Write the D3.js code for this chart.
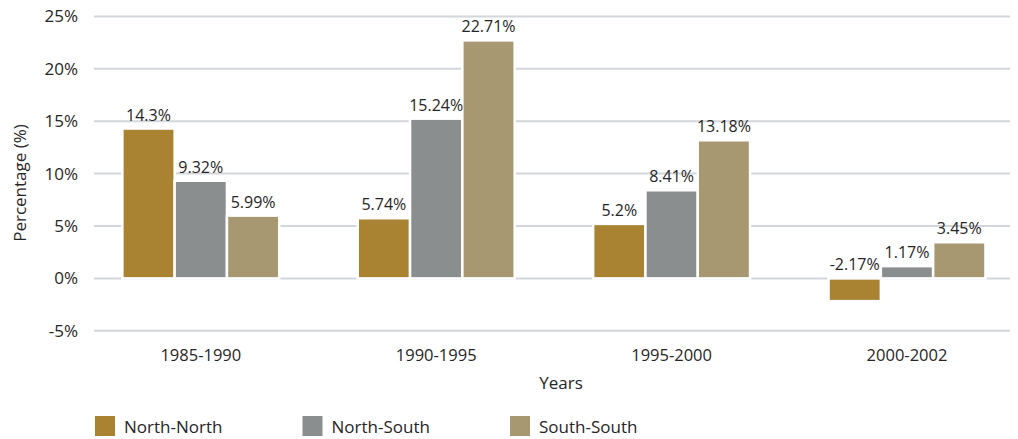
<!DOCTYPE html>
<html>
<head>
<meta charset="utf-8">
<script src="https://cdn.jsdelivr.net/npm/d3@7"></script>
<style>
  html, body { margin: 0; padding: 0; background: #fff; }
  svg { display: block; font-family: "Open Sans", "Noto Sans", sans-serif; }
</style>
</head>
<body>
<svg id="chart" width="1018" height="439"></svg>
<script>
// Trade growth by period and direction
const periods = ["1985-1990", "1990-1995", "1995-2000", "2000-2002"];
const seriesNames = ["North-North", "North-South", "South-South"];
const northNorth = [14.3, 5.74, 5.2, -2.17];
const northSouth = [9.32, 15.24, 8.41, 1.17];
const southSouth = [5.99, 22.71, 13.18, 3.45];
const yTicks = [-5, 0, 5, 10, 15, 20, 25];
const colors = ["#a98332", "#8b8e8f", "#a79872"];

const seriesValues = [northNorth, northSouth, southSouth];
const rows = periods.map((p, i) => ({
  period: p,
  values: seriesNames.map((s, j) => ({ series: s, value: seriesValues[j][i], color: colors[j] }))
}));

const svg = d3.select("#chart");
const textColor = "#262626";
const gridLeft = 94, gridRight = 1010;

const y = d3.scaleLinear().domain([-5, 25]).range([330.8, 16.4]);
const x0 = d3.scaleBand().domain(periods).range([83.1, 1024.7]).padding(0);
const groupWidth = 156.9;
const x1 = d3.scaleBand().domain(seriesNames)
  .range([(x0.bandwidth() - groupWidth) / 2, (x0.bandwidth() + groupWidth) / 2]).padding(0);

// horizontal gridlines
svg.append("g").selectAll("line").data(yTicks).join("line")
  .attr("x1", gridLeft).attr("x2", gridRight)
  .attr("y1", d => y(d)).attr("y2", d => y(d))
  .attr("stroke", "#d3d6da").attr("stroke-width", 2);

// y axis tick labels
const yAxis = d3.axisLeft(y).tickValues(yTicks).tickFormat(d => d + "%").tickSize(0).tickPadding(0);
const yg = svg.append("g").attr("transform", "translate(78,0)").call(yAxis);
yg.select(".domain").remove();
yg.selectAll("text").attr("font-size", 17).attr("fill", textColor)
  .attr("font-family", "'Open Sans', sans-serif");

// bars
const groups = svg.append("g").selectAll("g").data(rows).join("g")
  .attr("transform", d => `translate(${x0(d.period)},0)`);

groups.selectAll("rect").data(d => d.values).join("rect")
  .attr("x", d => x1(d.series))
  .attr("width", x1.bandwidth())
  .attr("y", d => y(Math.max(0, d.value)))
  .attr("height", d => Math.abs(y(d.value) - y(0)))
  .attr("fill", d => d.color)
  .attr("stroke", "#fff").attr("stroke-width", 2.5);

// value labels
groups.selectAll("text").data(d => d.values).join("text")
  .attr("x", d => x1(d.series) + x1.bandwidth() / 2)
  .attr("y", d => y(Math.max(0, d.value)) - 8)
  .attr("text-anchor", "middle")
  .attr("font-size", 16).attr("fill", textColor)
  .text(d => d.value + "%");

// x axis category labels
const xAxis = d3.axisBottom(x0).tickSize(0).tickPadding(0);
const xg = svg.append("g").attr("transform", "translate(0,349)").call(xAxis);
xg.select(".domain").remove();
xg.selectAll("text").attr("font-size", 16.5).attr("fill", textColor)
  .attr("font-family", "'Open Sans', sans-serif");

// axis titles
svg.append("text").attr("x", 561).attr("y", 389).attr("text-anchor", "middle")
  .attr("font-size", 17).attr("fill", textColor).text("Years");
svg.append("text").attr("transform", "translate(26,183) rotate(-90)").attr("text-anchor", "middle")
  .attr("font-size", 17).attr("fill", textColor).text("Percentage (%)");

// legend
const legend = svg.append("g").selectAll("g").data(seriesNames).join("g")
  .attr("transform", (d, i) => `translate(${95 + i * 207.5},416)`);
legend.append("rect").attr("width", 20).attr("height", 20).attr("fill", (d, i) => colors[i]);
legend.append("text").attr("x", 29).attr("y", 17).attr("font-size", 17).attr("fill", textColor).text(d => d);
</script>
</body>
</html>
